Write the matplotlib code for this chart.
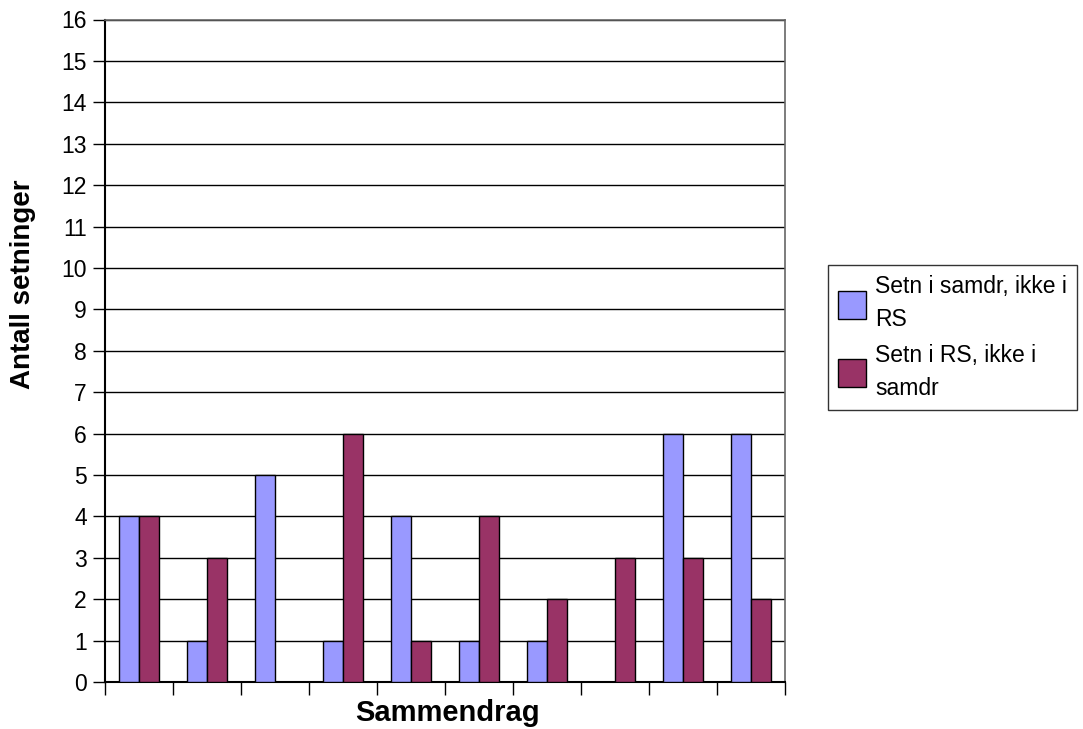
import matplotlib
matplotlib.use("Agg")
import matplotlib.pyplot as plt
import numpy as np

plt.rcParams["font.family"] = ["Liberation Sans", "DejaVu Sans"]

# sentences per summary
samdr_not_rs = [4, 1, 5, 1, 4, 1, 1, 0, 6, 6]
rs_not_samdr = [4, 3, 0, 6, 1, 4, 2, 3, 3, 2]
series_labels = ["Setn i samdr, ikke i\nRS", "Setn i RS, ikke i\nsamdr"]
y_ticks = list(range(0, 17))

fig = plt.figure(figsize=(10.83, 7.29), dpi=100)
ax = fig.add_axes([105 / 1083, 47 / 729, 680 / 1083, 662.5 / 729])

x = np.arange(len(samdr_not_rs))
w = 0.29
b1 = ax.bar(x - w / 2, samdr_not_rs, w, color="#9999FF", edgecolor="black", linewidth=1, zorder=3)
b2 = ax.bar(x + w / 2, rs_not_samdr, w, color="#993366", edgecolor="black", linewidth=1, zorder=3)

ax.set_xlim(-0.5, len(x) - 0.5)
ax.set_ylim(0, 16)
ax.set_yticks(y_ticks)
ax.set_yticklabels([str(t) for t in y_ticks], fontsize=16.5)
ax.set_xticks(np.arange(len(x) + 1) - 0.5)
ax.set_xticklabels([])
ax.tick_params(axis="y", direction="out", length=9, width=1, pad=4)
ax.tick_params(axis="x", direction="out", length=9, width=1)
ax.yaxis.grid(True, color="black", linewidth=1, zorder=0)
for side in ("left", "bottom"):
    ax.spines[side].set_linewidth(1.5)
for side in ("top", "right"):
    ax.spines[side].set_color("#666666")
    ax.spines[side].set_linewidth(1.2)

ax.set_xlabel("Sammendrag", fontsize=21, fontweight="bold")
ax.xaxis.set_label_coords(0.504, -0.025)
ax.set_ylabel("Antall setninger", fontsize=20, fontweight="bold")
ax.yaxis.set_label_coords(-0.101, 0.6)

leg = fig.legend([b1, b2], series_labels, loc="upper left",
                 bbox_to_anchor=(828 / 1083, 1 - 265 / 729),
                 fontsize=16.5, frameon=True, fancybox=False, edgecolor="black",
                 handlelength=1.2, handleheight=1.5, handletextpad=0.4,
                 borderpad=0.45, labelspacing=0.55, borderaxespad=0)
leg.get_frame().set_linewidth(1)
for t in leg.get_texts():
    t.set_linespacing(1.55)

fig.savefig("out.png", dpi=100)
